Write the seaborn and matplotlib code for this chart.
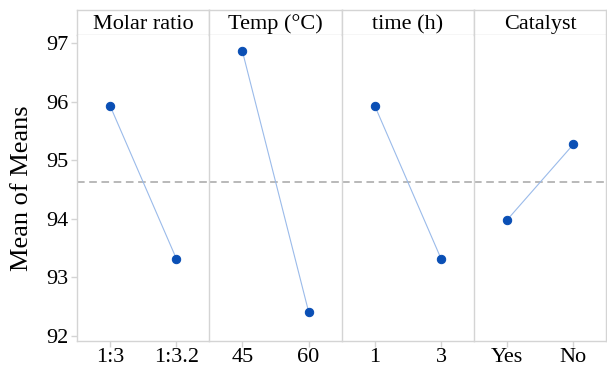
import pandas as pd
import matplotlib
matplotlib.use("Agg")
import matplotlib.pyplot as plt
import seaborn as sns

# main effects (means of means)
factors = ["Molar ratio", "Temp (°C)", "time (h)", "Catalyst"]
levels = [["1:3", "1:3.2"], ["45", "60"], ["1", "3"], ["Yes", "No"]]
means = [[95.93, 93.32], [96.86, 92.41], [95.93, 93.32], [93.98, 95.27]]
grand_mean = 94.63

rows = []
for f, lv, mv in zip(factors, levels, means):
    for l, m in zip(lv, mv):
        rows.append({"factor": f, "level": l, "mean": m})
df = pd.DataFrame(rows)

sns.set_style("white")
plt.rcParams["font.family"] = ["Liberation Serif", "DejaVu Serif"]
plt.rcParams["text.color"] = "black"
plt.rcParams["axes.labelcolor"] = "black"

grid_col = "#d4d4d4"
line_col = "#9bbbea"
dot_col = "#0a4fb5"

fig = plt.figure(figsize=(6.07, 3.72), dpi=100)
gs = fig.add_gridspec(2, 4, height_ratios=[25, 306], left=77 / 607, right=0.999,
                      top=1 - 10 / 372, bottom=1 - 341 / 372, wspace=0, hspace=0)

for i, f in enumerate(factors):
    hax = fig.add_subplot(gs[0, i])
    hax.set_xticks([])
    hax.set_yticks([])
    for s in hax.spines.values():
        s.set_color(grid_col)
        s.set_linewidth(1.0)
    hax.text(0.5, 0.42, f, ha="center", va="center", fontsize=16,
             color="black", transform=hax.transAxes)

    ax = fig.add_subplot(gs[1, i])
    sub = df[df["factor"] == f]
    sns.lineplot(data=sub, x="level", y="mean", ax=ax, color=line_col, lw=0.8,
                 marker="o", markersize=6, markerfacecolor=dot_col,
                 markeredgecolor=dot_col, sort=False)
    ax.axhline(grand_mean, color="#a6a6a6", ls=(0, (5, 3)), lw=1.1, zorder=0)
    ax.set_xlim(-0.5, 1.5)
    ax.set_ylim(91.91, 97.14)
    ax.set_xlabel("")
    ax.set_ylabel("")
    for s in ax.spines.values():
        s.set_color(grid_col)
        s.set_linewidth(1.0)
    ax.spines["top"].set_visible(False)
    ax.tick_params(axis="both", colors=grid_col, labelcolor="black", length=4,
                   width=1, labelsize=16, direction="out", pad=2)
    ax.set_yticks([92, 93, 94, 95, 96, 97])
    if i == 0:
        ax.set_ylabel("Mean of Means", fontsize=19, labelpad=10)
        ax.tick_params(axis="y", left=True)
    else:
        ax.tick_params(axis="y", left=False, labelleft=False)
    if i != 3:
        ax.spines["right"].set_visible(False)
    ax.tick_params(axis="x", bottom=True, pad=1)

fig.savefig("out.png", dpi=100)
